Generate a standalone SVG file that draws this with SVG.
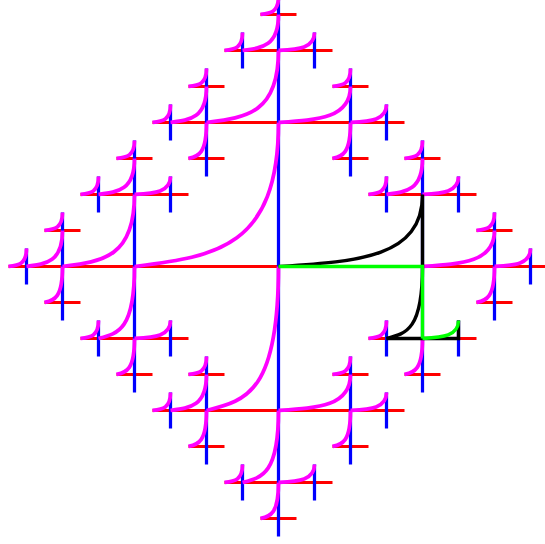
<svg xmlns="http://www.w3.org/2000/svg" width="545" height="544" viewBox="0 0 545 544">
<style>
.ln{fill:none;stroke-width:0.18;stroke-linecap:butt}
.red{stroke:#ff0000}
.blue{stroke:#0000ff}
.mag{fill:none;stroke:#ff00ff;stroke-width:0.21}
.blk{fill:none;stroke:#000000;stroke-width:0.19}
.grn{fill:none;stroke:#00ff00;stroke-width:0.19}
</style>
<rect width="545" height="544" fill="#ffffff"/>
<g transform="translate(278.5 266.5) scale(18)">
<g id="red-lines">
<path class="ln red" d="M-15 0H15M-7 -8H7M-7 8H7M5 -4H11M5 4H11M-11 -4H-5M-11 4H-5M-3 -12H3M-3 12H3M11 -2H13M11 2H13M7 -6H9M7 6H9M-13 -2H-11M-13 2H-11M-9 -6H-7M-9 6H-7M-1 -14H1M-5 -10H-3M-5 -6H-3M3 -10H5M3 -6H5M-1 14H1M-5 6H-3M-5 10H-3M3 6H5M3 10H5"/>
</g>
<g id="blue-lines">
<path class="ln blue" d="M0 -15V15M8 -7V7M-8 -7V7M12 -3V3M-12 -3V3M-4 -11V-5M4 -11V-5M-4 5V11M4 5V11M14 -1V1M6 -5V-3M10 -5V-3M6 3V5M10 3V5M-14 -1V1M-10 -5V-3M-6 -5V-3M-10 3V5M-6 3V5M-2 -13V-11M2 -13V-11M-6 -9V-7M6 -9V-7M-2 11V13M2 11V13M-6 7V9M6 7V9"/>
</g>
<g id="curves">
<path class="mag" d="M-8 0c4.4 -0.56 8 -0.96 8 -8"/>
<path class="mag" d="M-12 0c2.2 -0.28 4 -0.48 4 -4"/>
<path class="mag" d="M-4 -8c2.2 -0.28 4 -0.48 4 -4"/>
<path class="mag" d="M-4 8c2.2 -0.56 4 -0.96 4 -8"/>
<path class="mag" d="M8 0c2.2 -0.14 4 -0.24 4 -2"/>
<path class="mag" d="M6 -4c1.1 -0.14 2 -0.24 2 -2"/>
<path class="mag" d="M-14 0c1.1 -0.14 2 -0.24 2 -2"/>
<path class="mag" d="M-10 -4c1.1 -0.14 2 -0.24 2 -2"/>
<path class="mag" d="M-10 4c1.1 -0.28 2 -0.48 2 -4"/>
<path class="mag" d="M-2 -12c1.1 -0.14 2 -0.24 2 -2"/>
<path class="mag" d="M-6 -8c1.1 -0.14 2 -0.24 2 -2"/>
<path class="mag" d="M0 -8c2.2 -0.14 4 -0.24 4 -2"/>
<path class="mag" d="M-2 12c1.1 -0.28 2 -0.48 2 -4"/>
<path class="mag" d="M-6 8c1.1 -0.14 2 -0.24 2 -2"/>
<path class="mag" d="M0 8c2.2 -0.14 4 -0.24 4 -2"/>
<path class="mag" d="M12 0c1.1 -0.07 2 -0.12 2 -1"/>
<path class="mag" d="M11 -2c0.55 -0.07 1 -0.12 1 -1"/>
<path class="mag" d="M11 2c0.55 -0.14 1 -0.24 1 -2"/>
<path class="mag" d="M7 -6c0.55 -0.07 1 -0.12 1 -1"/>
<path class="mag" d="M5 -4c0.55 -0.07 1 -0.12 1 -1"/>
<path class="mag" d="M8 -4c1.1 -0.07 2 -0.12 2 -1"/>
<path class="mag" d="M7 6c0.55 -0.14 1 -0.24 1 -2"/>
<path class="mag" d="M5 4c0.55 -0.07 1 -0.12 1 -1"/>
<path class="mag" d="M-15 0c0.55 -0.07 1 -0.12 1 -1"/>
<path class="mag" d="M-13 -2c0.55 -0.07 1 -0.12 1 -1"/>
<path class="mag" d="M-13 2c0.55 -0.14 1 -0.24 1 -2"/>
<path class="mag" d="M-9 -6c0.55 -0.07 1 -0.12 1 -1"/>
<path class="mag" d="M-11 -4c0.55 -0.07 1 -0.12 1 -1"/>
<path class="mag" d="M-8 -4c1.1 -0.07 2 -0.12 2 -1"/>
<path class="mag" d="M-9 6c0.55 -0.14 1 -0.24 1 -2"/>
<path class="mag" d="M-11 4c0.55 -0.07 1 -0.12 1 -1"/>
<path class="mag" d="M-8 4c1.1 -0.07 2 -0.12 2 -1"/>
<path class="mag" d="M-1 -14c0.55 -0.07 1 -0.12 1 -1"/>
<path class="mag" d="M-3 -12c0.55 -0.07 1 -0.12 1 -1"/>
<path class="mag" d="M0 -12c1.1 -0.07 2 -0.12 2 -1"/>
<path class="mag" d="M-7 -8c0.55 -0.07 1 -0.12 1 -1"/>
<path class="mag" d="M-5 -10c0.55 -0.07 1 -0.12 1 -1"/>
<path class="mag" d="M-5 -6c0.55 -0.14 1 -0.24 1 -2"/>
<path class="mag" d="M4 -8c1.1 -0.07 2 -0.12 2 -1"/>
<path class="mag" d="M3 -10c0.55 -0.07 1 -0.12 1 -1"/>
<path class="mag" d="M3 -6c0.55 -0.14 1 -0.24 1 -2"/>
<path class="mag" d="M-1 14c0.55 -0.14 1 -0.24 1 -2"/>
<path class="mag" d="M-3 12c0.55 -0.07 1 -0.12 1 -1"/>
<path class="mag" d="M0 12c1.1 -0.07 2 -0.12 2 -1"/>
<path class="mag" d="M-7 8c0.55 -0.07 1 -0.12 1 -1"/>
<path class="mag" d="M-5 6c0.55 -0.07 1 -0.12 1 -1"/>
<path class="mag" d="M-5 10c0.55 -0.14 1 -0.24 1 -2"/>
<path class="mag" d="M4 8c1.1 -0.07 2 -0.12 2 -1"/>
<path class="mag" d="M3 6c0.55 -0.07 1 -0.12 1 -1"/>
<path class="mag" d="M3 10c0.55 -0.14 1 -0.24 1 -2"/>
</g>
<g id="highlight">
<path class="blk" d="M0 0c4.4 -0.28 8 -0.48 8 -4V0"/>
<path class="blk" d="M6 4c1.1 -0.28 2 -0.48 2 -4"/>
<path class="blk" d="M6 4H10V3"/>
<path class="grn" d="M0 0H8V4"/>
<path class="grn" d="M8 4c1.1 -0.07 2 -0.12 2 -1"/>
</g>
</g>
</svg>
